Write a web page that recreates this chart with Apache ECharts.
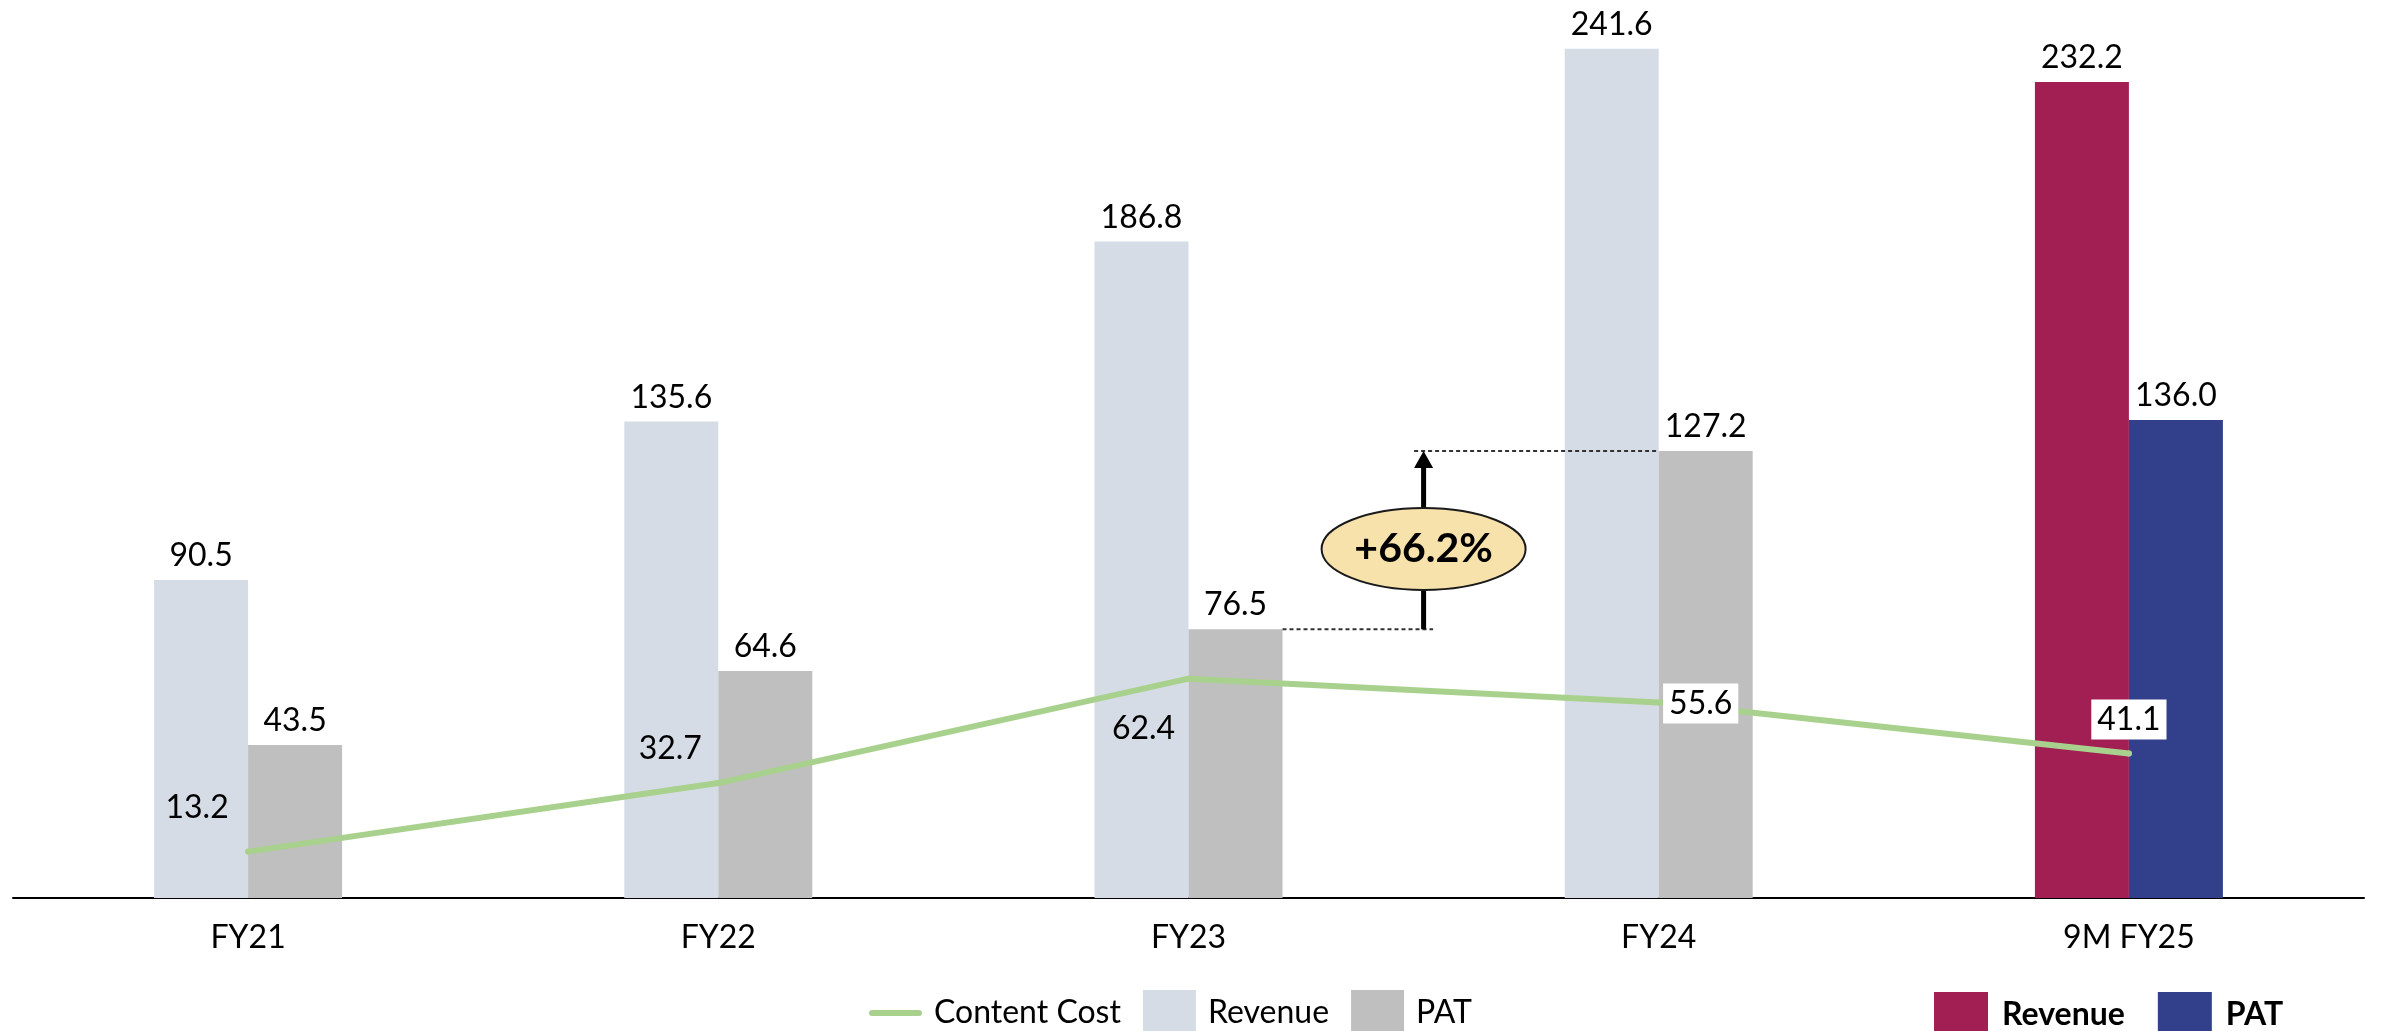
<!DOCTYPE html>
<html>
<head>
<meta charset="utf-8">
<script src="https://cdn.jsdelivr.net/npm/echarts@6/dist/echarts.min.js"></script>
<style>
  html, body { margin: 0; padding: 0; background: #ffffff; }
  #chart { width: 2381px; height: 1031px; }
</style>
</head>
<body>
<div id="chart"></div>
<script>
// Financial years shown on the category axis
const categories = ['FY21', 'FY22', 'FY23', 'FY24', '9M FY25'];

// Full-year figures (last period reported separately below)
const revenue = [90.5, 135.6, 186.8, 241.6, null];
const pat = [43.5, 64.6, 76.5, 127.2, null];

// Nine-month figures for the current year
const revenue9M = [null, null, null, null, 232.2];
const pat9M = [null, null, null, null, 136.0];

// Content cost trend line
const contentCost = [13.2, 32.7, 62.4, 55.6, 41.1];

// PAT growth callout between FY23 and FY24
const growthText = '+66.2%';
const growthFrom = 2; // FY23
const growthTo = 3;   // FY24

const FONT = 'Lato, "Open Sans", sans-serif';
const BAR_W = 94;

const chart = echarts.init(document.getElementById('chart'), null, { renderer: 'canvas' });

const barLabel = {
  show: true,
  position: 'top',
  distance: 7,
  color: '#000',
  fontFamily: FONT,
  fontSize: 32,
  lineHeight: 34,
  formatter: p => (p.value == null ? '' : Number(p.value).toFixed(1))
};

// Per-point placement of the content-cost labels around the line
const costLabelOffsets = [[-51, -44], [-48, -34], [-45, 50], [42, 1], [0, -34]];
const costLabelBoxed = [false, false, false, true, true];

const costData = contentCost.map((v, i) => ({
  value: v,
  label: {
    offset: costLabelOffsets[i],
    backgroundColor: costLabelBoxed[i] ? '#ffffff' : 'transparent',
    padding: costLabelBoxed[i] ? [3, 6, 3, 6] : 0
  }
}));

// Thin rounded stroke used as the legend key of the trend line
const lineKeyIcon = 'path://M3,0 H49 A3,3 0 0 1 49,6 H3 A3,3 0 0 1 3,0 Z';

const option = {
  backgroundColor: '#ffffff',
  animation: false,
  grid: { left: 13, right: 17, top: 0, bottom: 133, containLabel: false },
  legend: [
    {
      left: 869,
      top: 990,
      padding: 0,
      itemWidth: 53,
      itemHeight: 46,
      itemGap: 22,
      textStyle: { fontFamily: FONT, fontSize: 32, color: '#000', padding: [0, 0, 0, 7] },
      data: [
        { name: 'Content Cost', icon: lineKeyIcon, itemStyle: { color: '#A9D18E' } },
        { name: 'Revenue', icon: 'rect' },
        { name: 'PAT', icon: 'rect' }
      ]
    },
    {
      left: 1934,
      top: 992,
      padding: 0,
      itemWidth: 54,
      itemHeight: 46,
      itemGap: 33,
      textStyle: { fontFamily: FONT, fontSize: 32, fontWeight: 'bold', color: '#000', padding: [0, 0, 0, 9] },
      formatter: name => name.replace(' (9M FY25)', ''),
      data: [
        { name: 'Revenue (9M FY25)', icon: 'rect' },
        { name: 'PAT (9M FY25)', icon: 'rect' }
      ]
    }
  ],
  xAxis: {
    type: 'category',
    data: categories,
    axisLine: { show: true, lineStyle: { color: '#000', width: 2 } },
    axisTick: { show: false },
    axisLabel: { color: '#000', fontFamily: FONT, fontSize: 32, lineHeight: 34, margin: 23 },
    splitLine: { show: false }
  },
  yAxis: {
    type: 'value',
    min: 0,
    max: 255.5,
    show: false,
    splitLine: { show: false }
  },
  series: [
    {
      name: 'Revenue',
      type: 'bar',
      stack: 'rev',
      barWidth: BAR_W,
      barGap: '0%',
      data: revenue,
      itemStyle: { color: '#D6DCE5' },
      label: barLabel,
      z: 2
    },
    {
      name: 'PAT',
      type: 'bar',
      stack: 'pat',
      barWidth: BAR_W,
      barGap: '0%',
      data: pat,
      itemStyle: { color: '#BFBFBF' },
      label: barLabel,
      z: 2
    },
    {
      name: 'Revenue (9M FY25)',
      type: 'bar',
      stack: 'rev',
      barWidth: BAR_W,
      barGap: '0%',
      data: revenue9M,
      itemStyle: { color: '#A21F54' },
      label: barLabel,
      z: 2
    },
    {
      name: 'PAT (9M FY25)',
      type: 'bar',
      stack: 'pat',
      barWidth: BAR_W,
      barGap: '0%',
      data: pat9M,
      itemStyle: { color: '#323F8B' },
      label: barLabel,
      z: 2
    },
    {
      name: 'Content Cost',
      type: 'line',
      data: costData,
      symbol: 'circle',
      symbolSize: 6,
      showSymbol: true,
      itemStyle: { color: '#A9D18E' },
      lineStyle: { color: '#A9D18E', width: 6, cap: 'round', join: 'round' },
      label: {
        show: true,
        position: 'inside',
        color: '#000',
        fontFamily: FONT,
        fontSize: 32,
        lineHeight: 34,
        formatter: p => Number(p.value).toFixed(1)
      },
      z: 5
    }
  ]
};

chart.setOption(option);

// Growth callout: dashed guides at both PAT levels, an arrow and an oval badge
function drawCallout() {
  const toPx = (ci, v) => chart.convertToPixel({ xAxisIndex: 0, yAxisIndex: 0 }, [ci, v]);
  const pFrom = toPx(growthFrom, pat[growthFrom]);
  const pTo = toPx(growthTo, pat[growthTo]);
  const midX = (pFrom[0] + pTo[0]) / 2;
  const yBot = pFrom[1];
  const yTop = pTo[1];
  const yEll = yTop + (yBot - yTop) * 0.55;
  const headH = 17, headW = 9.5;
  const dash = { stroke: '#333', lineWidth: 2, lineDash: [4, 3] };

  chart.setOption({
    graphic: [
      { type: 'line', z: 10, shape: { x1: midX - 9.5, y1: yTop, x2: pTo[0], y2: yTop }, style: dash },
      { type: 'line', z: 10, shape: { x1: pFrom[0] + BAR_W, y1: yBot, x2: midX + 9.5, y2: yBot }, style: dash },
      { type: 'line', z: 10, shape: { x1: midX, y1: yBot, x2: midX, y2: yTop + headH - 1 }, style: { stroke: '#000', lineWidth: 5 } },
      { type: 'polygon', z: 10, shape: { points: [[midX, yTop], [midX - headW, yTop + headH], [midX + headW, yTop + headH]] }, style: { fill: '#000' } },
      { type: 'ellipse', z: 11, shape: { cx: midX, cy: yEll, rx: 102, ry: 41 }, style: { fill: '#F7E2AC', stroke: '#1a1a1a', lineWidth: 2 } },
      { type: 'text', z: 12, x: midX, y: yEll, style: { text: growthText, fontFamily: FONT, fontSize: 41, fontWeight: 'bold', fill: '#000', align: 'center', verticalAlign: 'middle' } }
    ]
  });
}
drawCallout();
</script>
</body>
</html>
